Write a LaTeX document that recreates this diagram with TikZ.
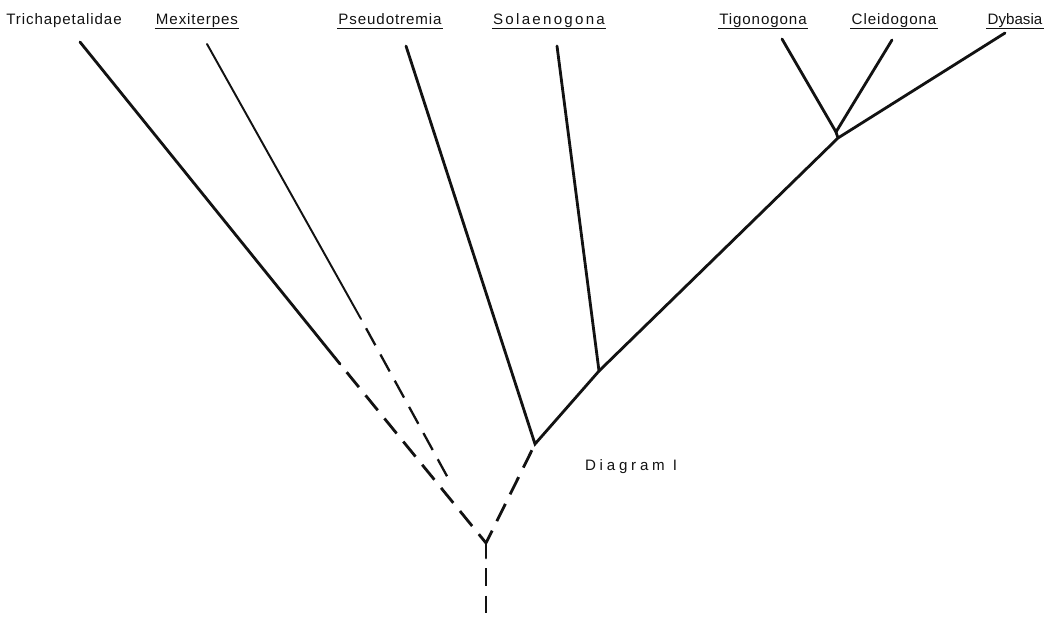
\documentclass[tikz,border=0pt]{standalone}
\usepackage{fontspec}
\setmainfont{Liberation Sans}
\usepackage{tikz}
\usepackage{xcolor}
\definecolor{InkBlack}{RGB}{18, 18, 18}
\usetikzlibrary{positioning}

\begin{document}
\begin{tikzpicture}[
    x=0.02cm, y=-0.02cm,
    taxon/.style={font=\fontsize{8.6}{10}\selectfont\addfontfeature{LetterSpace=#1}, anchor=base, inner sep=0pt, text=InkBlack},
    taxon/.default=6,
    caption/.style={font=\fontsize{8.6}{10}\selectfont\addfontfeature{LetterSpace=25}, anchor=base, inner sep=0pt, text=InkBlack},
    rule/.style={line width=0.7pt, InkBlack},
    branch/.style={line width=1.6pt, line cap=round, InkBlack},
    slim/.style={line width=1.1pt, line cap=round, InkBlack},
    broken/.style={line width=1.6pt, dash pattern=on 11pt off 6pt, dash phase=11pt, InkBlack}
]
\useasboundingbox (0,0) rectangle (1064,618);

% Taxon names
\node[taxon] (tri) at (64, 25) {Trichapetalidae};
\node[taxon] (mex) at (197, 25) {Mexiterpes};
\node[taxon] (pse) at (390, 25) {Pseudotremia};
\node[taxon=15] (sol) at (549, 25) {Solaenogona};
\node[taxon] (tig) at (763, 25) {Tigonogona};
\node[taxon] (cle) at (894, 25) {Cleidogona};
\node[taxon=0] (dyb) at (1015, 25) {Dybasia};

% Underlines
\foreach \t in {mex, pse, sol, tig, cle, dyb} {
    \draw[rule] ([yshift=-2pt, xshift=-0.5pt]\t.base west) -- ([yshift=-2pt, xshift=0.5pt]\t.base east);
}

% Branch tips and forks
\coordinate (tipTri) at (80, 42);
\coordinate (gapTri) at (340, 364);
\coordinate (tipMex) at (207, 44);
\coordinate (gapMex) at (361, 319);
\coordinate (endMex) at (448, 478);
\coordinate (tipPse) at (406, 46);
\coordinate (tipSol) at (557, 46);
\coordinate (tipTig) at (782, 39);
\coordinate (tipCle) at (892, 40);
\coordinate (tipDyb) at (1005, 33);
\coordinate (forkPse) at (535, 444);
\coordinate (forkSol) at (599, 371);
\coordinate (forkCle) at (838, 138);
\coordinate (forkTig) at (836, 132);
\coordinate (root) at (486, 543);
\coordinate (stem) at (486, 558);
\coordinate (base) at (486, 568);
\coordinate (foot) at (486, 614);

% Solid branches
\draw[branch] (tipTri) -- (gapTri);
\draw[slim] (tipMex) -- (gapMex);
\draw[branch] (tipPse) -- (forkPse) -- (forkSol) -- (forkCle) -- (tipDyb);
\draw[branch] (tipSol) -- (forkSol);
\draw[branch] (tipTig) -- (forkTig) -- (tipCle);
\draw[branch] (forkTig) -- (forkCle);
\draw[branch] (root) -- (stem);

% Uncertain links
\draw[broken] (gapTri) -- (root);
\draw[broken, line width=1.3pt] (gapMex) -- (endMex);
\draw[broken, dash phase=13pt] (forkPse) -- (root);
\draw[broken, dash pattern=on 10pt off 5.7pt, dash phase=0pt] (base) -- (foot);

\node[caption] (cap) at (631, 470) {Diagram I};

\end{tikzpicture}
\end{document}
